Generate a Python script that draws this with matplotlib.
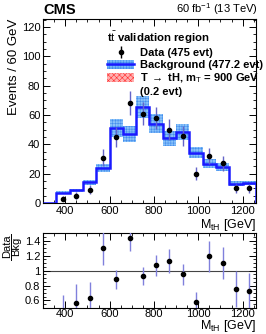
import numpy as np
import matplotlib
matplotlib.use("Agg")
import matplotlib.pyplot as plt
from matplotlib.patches import Patch
from matplotlib.lines import Line2D
from matplotlib.ticker import MultipleLocator

plt.rcParams['font.family'] = ['Liberation Sans', 'DejaVu Sans']
plt.rcParams['mathtext.fontset'] = 'custom'
plt.rcParams['mathtext.rm'] = 'Liberation Sans'
plt.rcParams['mathtext.it'] = 'Liberation Sans'
plt.rcParams['mathtext.bf'] = 'Liberation Sans:bold'
plt.rcParams['hatch.linewidth'] = 0.4

# bin edges (GeV) and contents
edges = [300, 360, 420, 480, 540, 600, 660, 720, 780, 840, 900, 960, 1020, 1080, 1140, 1200, 1260]
bkg = [0, 7, 8.8, 14.2, 23.8, 51, 47.2, 65.5, 54.2, 44.2, 48.4, 34.4, 26.9, 24.6, 13.2, 13.7]
bkg_unc = [0, 1.0, 1.1, 1.7, 2.8, 6.0, 5.5, 7.5, 6.3, 5.2, 5.6, 4.0, 3.2, 2.9, 1.6, 1.6]
data_x = [390, 450, 510, 570, 630, 690, 750, 810, 870, 930, 990, 1050, 1110, 1170, 1230]
data_y = [3, 5, 9, 31, 45, 68, 61, 58, 50, 46, 20, 32, 27, 10, 10]

edges = np.array(edges, float)
bkg = np.array(bkg)
bkg_unc = np.array(bkg_unc)
data_x = np.array(data_x, float)
data_y = np.array(data_y, float)
data_err = np.sqrt(data_y)

fig = plt.figure(figsize=(2.66, 3.34), dpi=100)
ax = fig.add_axes([0.162, 0.392, 0.8, 0.551])
rax = fig.add_axes([0.162, 0.078, 0.8, 0.224])

band_face = '#74b8f8'
band_hatch = '#3a86ec'

# background band + line
lo = np.append(bkg - bkg_unc, (bkg - bkg_unc)[-1])
hi = np.append(bkg + bkg_unc, (bkg + bkg_unc)[-1])
ax.fill_between(edges, lo, hi, step='post', facecolor=band_face, edgecolor=band_hatch,
                hatch='++++++', linewidth=0, alpha=0.85, zorder=2)
ax.stairs(bkg, edges, color='#1a1aff', linewidth=1.8, zorder=3)

# data
ax.errorbar(data_x, data_y, yerr=data_err, fmt='o', color='black', ms=3,
            ecolor='#6464c8', elinewidth=1.0, capsize=0, zorder=4)

ax.set_xlim(300, 1260)
ax.set_ylim(0, 125.5)
ax.set_xlabel('M$_{tH}$ [GeV]', fontsize=9, loc='right', labelpad=1)
ax.set_ylabel('Events / 60 GeV', fontsize=9.5, loc='top', labelpad=1)
ax.yaxis.set_major_locator(MultipleLocator(20))
ax.yaxis.set_minor_locator(MultipleLocator(5))
ax.xaxis.set_major_locator(MultipleLocator(200))
ax.xaxis.set_minor_locator(MultipleLocator(50))

for a in (ax, rax):
    a.tick_params(which='both', direction='in', top=True, right=True, labelsize=8, pad=2)
    a.tick_params(which='major', length=5, width=0.7)
    a.tick_params(which='minor', length=2.5, width=0.6)
    for s in a.spines.values():
        s.set_linewidth(0.8)

# legend
h_data = Line2D([], [], marker='o', color='black', ms=3, linestyle='none')
h_data_err = Line2D([], [], color='black', linewidth=1.0, marker='|', ms=8, linestyle='none')
h_bkg = (Patch(facecolor=band_face, edgecolor=band_hatch, hatch='++++++', linewidth=0),
         Line2D([], [], color='#1a1aff', linewidth=1.8))
h_sig = Patch(facecolor='#ffb0b0', edgecolor='#ff3030', hatch='xxxxxx', linewidth=0)
h_none = Line2D([], [], linestyle='none')
leg = ax.legend([(h_data_err, h_data), h_bkg, h_sig, h_none],
                ['Data (475 evt)', 'Background (477.2 evt)',
                 'T $\\rightarrow$ tH, m$_{T}$ = 900 GeV', '(0.2 evt)'],
                title='t$\\bar{t}$ validation region', loc='upper left',
                bbox_to_anchor=(0.265, 0.985), frameon=False, fontsize=8,
                title_fontsize=8.2, handlelength=2.4, handleheight=0.9,
                labelspacing=0.15, borderpad=0.2, handletextpad=0.55)
for t in leg.get_texts():
    t.set_fontweight('bold')
leg.get_title().set_fontweight('bold')
leg._legend_box.align = 'left'

fig.text(0.162, 0.948, 'CMS', fontsize=10.5, fontweight='bold', ha='left', va='bottom')
fig.text(0.97, 0.948, '60 fb$^{-1}$ (13 TeV)', fontsize=8, ha='right', va='bottom')

# ratio panel
ratio = data_y / bkg[1:]
ratio_err = data_err / bkg[1:]
rax.errorbar(data_x, ratio, yerr=ratio_err, fmt='o', color='black', ms=3,
             ecolor='#8080dc', elinewidth=1.0, capsize=0, zorder=4)
rax.axhline(1.0, color='#444444', linewidth=0.8, zorder=1)
rax.set_xlim(300, 1260)
rax.set_ylim(0.5, 1.5)
rax.set_yticks([0.6, 0.8, 1.0, 1.2, 1.4])
rax.set_yticklabels(['0.6', '0.8', '1', '1.2', '1.4'])
rax.yaxis.set_minor_locator(MultipleLocator(0.05))
rax.xaxis.set_major_locator(MultipleLocator(200))
rax.xaxis.set_minor_locator(MultipleLocator(50))
rax.tick_params(axis='x', pad=1)
rax.set_xlabel('M$_{tH}$ [GeV]', fontsize=9, loc='right', labelpad=-1)

# "Data / Bkg" written as a rotated fraction
fig.text(0.026, 0.262, 'Data', fontsize=8, rotation=90, ha='center', va='center')
fig.text(0.061, 0.262, 'Bkg', fontsize=8, rotation=90, ha='center', va='center')
fig.add_artist(Line2D([0.043, 0.043], [0.222, 0.300], color='black', linewidth=0.7,
                      transform=fig.transFigure))

fig.savefig('out.png', dpi=100)
